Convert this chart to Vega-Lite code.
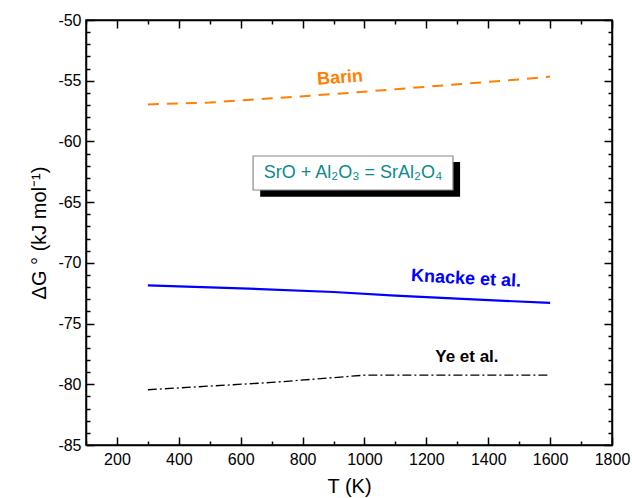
{
  "$schema": "https://vega.github.io/schema/vega-lite/v6.json",
  "width": 526,
  "height": 425,
  "autosize": {"type": "none"},
  "padding": {"left": 86, "top": 20, "right": 20, "bottom": 53},
  "background": "white",
  "config": {
    "font": "Liberation Sans",
    "view": {"stroke": "black", "strokeWidth": 1.5},
    "axis": {
      "grid": false,
      "domainColor": "black",
      "domainWidth": 1.5,
      "tickColor": "black",
      "tickWidth": 1.5,
      "labelFont": "Liberation Sans",
      "labelFontSize": 16,
      "labelColor": "black",
      "titleFont": "Liberation Sans",
      "titleFontWeight": "normal",
      "titleColor": "black"
    }
  },
  "datasets": {
    "curves": [
      {"source": "Barin", "T": 300, "G": -56.95},
      {"source": "Barin", "T": 500, "G": -56.8},
      {"source": "Barin", "T": 700, "G": -56.45},
      {"source": "Barin", "T": 900, "G": -56.1},
      {"source": "Barin", "T": 1100, "G": -55.7},
      {"source": "Barin", "T": 1300, "G": -55.3},
      {"source": "Barin", "T": 1500, "G": -54.9},
      {"source": "Barin", "T": 1600, "G": -54.65},
      {"source": "Knacke", "T": 300, "G": -71.85},
      {"source": "Knacke", "T": 600, "G": -72.1},
      {"source": "Knacke", "T": 900, "G": -72.4},
      {"source": "Knacke", "T": 1100, "G": -72.7},
      {"source": "Knacke", "T": 1300, "G": -72.95},
      {"source": "Knacke", "T": 1600, "G": -73.3},
      {"source": "Ye", "T": 300, "G": -80.45},
      {"source": "Ye", "T": 500, "G": -80.15},
      {"source": "Ye", "T": 700, "G": -79.85},
      {"source": "Ye", "T": 900, "G": -79.45},
      {"source": "Ye", "T": 1000, "G": -79.25},
      {"source": "Ye", "T": 1200, "G": -79.25},
      {"source": "Ye", "T": 1600, "G": -79.25}
    ],
    "labels": [
      {"source": "Barin", "text": "Barin", "T": 921, "G": -54.78},
      {"source": "Knacke", "text": "Knacke et al.", "T": 1328, "G": -71.33},
      {"source": "Ye", "text": "Ye et al.", "T": 1331, "G": -77.75}
    ],
    "eq": [
      {"text": "SrO + Al₂O₃ = SrAl₂O₄", "T": 963, "G": -62.6}
    ]
  },
  "layer": [
    {
      "data": {"name": "curves"},
      "transform": [{"filter": "datum.source === 'Barin'"}],
      "mark": {"type": "line", "color": "#ff7f00", "strokeWidth": 2, "strokeDash": [11, 8]},
      "encoding": {
        "x": {
          "field": "T", "type": "quantitative",
          "scale": {"domain": [100, 1800], "nice": false},
          "axis": {
            "orient": "bottom",
            "values": [100, 200, 300, 400, 500, 600, 700, 800, 900, 1000, 1100, 1200, 1300, 1400, 1500, 1600, 1700, 1800],
            "labelExpr": "datum.value % 200 === 0 ? datum.label : ''",
            "format": "d",
            "tickSize": {"condition": {"test": "datum.value % 200 === 0", "value": -8}, "value": -4},
            "labelPadding": 14,
            "labelFlush": false,
            "labelOverlap": false,
            "title": "T (K)",
            "titleFontSize": 20,
            "titlePadding": 5
          }
        },
        "y": {
          "field": "G", "type": "quantitative",
          "scale": {"domain": [-85, -50], "nice": false, "zero": false},
          "axis": {
            "orient": "left",
            "values": [-85, -84, -83, -82, -81, -80, -79, -78, -77, -76, -75, -74, -73, -72, -71, -70, -69, -68, -67, -66, -65, -64, -63, -62, -61, -60, -59, -58, -57, -56, -55, -54, -53, -52, -51, -50],
            "labelExpr": "datum.value % 5 === 0 ? '-' + abs(datum.value) : ''",
            "tickSize": {"condition": {"test": "datum.value % 5 === 0", "value": -8}, "value": -4},
            "labelPadding": 13,
            "labelFlush": false,
            "labelOverlap": false,
            "title": "ΔG ° (kJ mol⁻¹)",
            "titleFontSize": 20,
            "titlePadding": 8
          }
        }
      }
    },
    {
      "data": {"name": "curves"},
      "transform": [{"filter": "datum.source === 'Knacke'"}],
      "mark": {"type": "line", "color": "#0000ff", "strokeWidth": 2.2},
      "encoding": {
        "x": {
          "field": "T", "type": "quantitative",
          "axis": {
            "orient": "top",
            "values": [100, 200, 300, 400, 500, 600, 700, 800, 900, 1000, 1100, 1200, 1300, 1400, 1500, 1600, 1700, 1800],
            "labels": false,
            "tickSize": {"condition": {"test": "datum.value % 200 === 0", "value": -8}, "value": -4},
            "title": null
          }
        },
        "y": {
          "field": "G", "type": "quantitative",
          "axis": {
            "orient": "right",
            "values": [-85, -84, -83, -82, -81, -80, -79, -78, -77, -76, -75, -74, -73, -72, -71, -70, -69, -68, -67, -66, -65, -64, -63, -62, -61, -60, -59, -58, -57, -56, -55, -54, -53, -52, -51, -50],
            "labels": false,
            "tickSize": {"condition": {"test": "datum.value % 5 === 0", "value": -8}, "value": -4},
            "title": null
          }
        }
      }
    },
    {
      "data": {"name": "curves"},
      "transform": [{"filter": "datum.source === 'Ye'"}],
      "mark": {"type": "line", "color": "black", "strokeWidth": 1.3, "strokeDash": [9, 3, 2, 3]},
      "encoding": {
        "x": {"field": "T", "type": "quantitative", "axis": null},
        "y": {"field": "G", "type": "quantitative", "axis": null}
      }
    },
    {
      "data": {"name": "eq"},
      "mark": {"type": "rect", "color": "black"},
      "encoding": {
        "x": {"datum": 663, "type": "quantitative", "axis": null},
        "x2": {"datum": 1309},
        "y": {"datum": -61.7, "type": "quantitative", "axis": null},
        "y2": {"datum": -64.55}
      }
    },
    {
      "data": {"name": "eq"},
      "mark": {"type": "rect", "fill": "white", "stroke": "#8a8a8a", "strokeWidth": 1.2},
      "encoding": {
        "x": {"datum": 640, "type": "quantitative", "axis": null},
        "x2": {"datum": 1286},
        "y": {"datum": -61.2, "type": "quantitative", "axis": null},
        "y2": {"datum": -64.0}
      }
    },
    {
      "data": {"name": "eq"},
      "mark": {"type": "text", "color": "#0a8a8a", "fontSize": 18, "font": "Liberation Sans", "align": "center", "baseline": "middle"},
      "encoding": {
        "x": {"field": "T", "type": "quantitative", "axis": null},
        "y": {"field": "G", "type": "quantitative", "axis": null},
        "text": {"field": "text"}
      }
    },
    {
      "data": {"name": "labels"},
      "transform": [{"filter": "datum.source === 'Barin'"}],
      "mark": {"type": "text", "fontSize": 18, "fontWeight": "bold", "font": "Liberation Sans", "align": "center", "baseline": "middle", "color": "#ff7f00", "angle": 356},
      "encoding": {
        "x": {"field": "T", "type": "quantitative", "axis": null},
        "y": {"field": "G", "type": "quantitative", "axis": null},
        "text": {"field": "text"}
      }
    },
    {
      "data": {"name": "labels"},
      "transform": [{"filter": "datum.source === 'Knacke'"}],
      "mark": {"type": "text", "fontSize": 18, "fontWeight": "bold", "font": "Liberation Sans", "align": "center", "baseline": "middle", "color": "#0000ff", "angle": 3},
      "encoding": {
        "x": {"field": "T", "type": "quantitative", "axis": null},
        "y": {"field": "G", "type": "quantitative", "axis": null},
        "text": {"field": "text"}
      }
    },
    {
      "data": {"name": "labels"},
      "transform": [{"filter": "datum.source === 'Ye'"}],
      "mark": {"type": "text", "fontSize": 17, "fontWeight": "bold", "font": "Liberation Sans", "align": "center", "baseline": "middle", "color": "black"},
      "encoding": {
        "x": {"field": "T", "type": "quantitative", "axis": null},
        "y": {"field": "G", "type": "quantitative", "axis": null},
        "text": {"field": "text"}
      }
    }
  ],
  "resolve": {"axis": {"x": "independent", "y": "independent"}}
}
